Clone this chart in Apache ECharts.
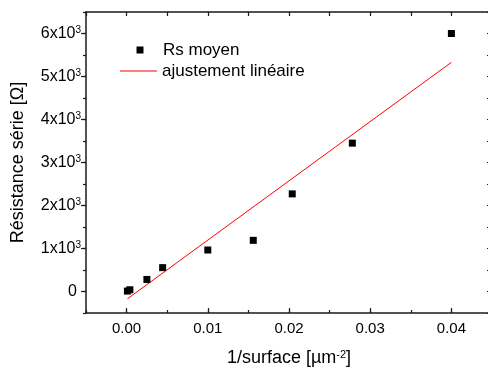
<!DOCTYPE html>
<html>
<head>
<meta charset="utf-8">
<script src="https://cdn.jsdelivr.net/npm/echarts@6/dist/echarts.min.js"></script>
<style>
html,body{margin:0;padding:0;background:#fff;}
#chart{width:488px;height:367px;}
</style>
</head>
<body>
<div id="chart"></div>
<script>
// ---- data ----
const xValues = [0.0001, 0.0004, 0.0025, 0.00444, 0.01, 0.0156, 0.0204, 0.0278, 0.04];
const rsMoyen = [10, 40, 280, 555, 965, 1190, 2270, 3450, 6000];
const fitX = [0.0001, 0.04];
const fitY = [-170, 5330];
const xTickValues = [0, 0.01, 0.02, 0.03, 0.04];
const xTickLabels = ['0.00', '0.01', '0.02', '0.03', '0.04'];
const yTickValues = [0, 1000, 2000, 3000, 4000, 5000, 6000];
const yTickLabels = ['0', '1x10^3', '2x10^3', '3x10^3', '4x10^3', '5x10^3', '6x10^3'];
const seriesNames = ['Rs moyen', 'ajustement linéaire'];
const xTitle = ['1/surface [µm', '-2', ']'];
const yTitle = 'Résistance série [Ω]';

const FONT = '"Liberation Sans", Arial, sans-serif';
const AX = '#1a1a1a';
const X_MIN = -0.005, X_MAX = 0.045, Y_MIN = -500, Y_MAX = 6500;

function yLabel(v) {
  const i = yTickValues.indexOf(v);
  const t = i >= 0 ? yTickLabels[i] : '';
  if (t.indexOf('^') < 0) return '{z|' + t + '}';
  const p = t.split('^');
  return '{n|' + p[0] + '}{s|' + p[1] + '}';
}
function xLabel(v) {
  let best = 0;
  for (let i = 0; i < xTickValues.length; i++) if (Math.abs(xTickValues[i] - v) < 1e-9) best = i;
  return xTickLabels[best];
}

const chart = echarts.init(document.getElementById('chart'), null, {renderer: 'canvas'});
const baseX = {type: 'value', min: X_MIN, max: X_MAX, gridIndex: 0, splitLine: {show: false}};
const baseY = {type: 'value', min: Y_MIN, max: Y_MAX, gridIndex: 0, splitLine: {show: false}};

chart.setOption({
  animation: false,
  backgroundColor: '#ffffff',
  textStyle: {fontFamily: FONT},
  grid: {left: 86, top: 12, width: 406, height: 301, containLabel: false, outerBoundsMode: 'none'},
  legend: [
    {
      data: [seriesNames[0]], left: 136.5, top: 40, padding: 0, orient: 'vertical',
      icon: 'rect', itemWidth: 7, itemHeight: 7,
      textStyle: {fontFamily: FONT, fontSize: 17, color: '#000', lineHeight: 20, padding: [0, 0, 0, 14.5]}
    },
    {
      data: [seriesNames[1]], left: 120, top: 61, padding: 0, orient: 'vertical',
      icon: 'rect', itemWidth: 37, itemHeight: 1.2,
      textStyle: {fontFamily: FONT, fontSize: 17, color: '#000', lineHeight: 20}
    }
  ],
  xAxis: [
    Object.assign({}, baseX, {
      position: 'bottom',
      axisLine: {show: true, onZero: false, lineStyle: {color: AX, width: 1.5}},
      axisTick: {show: true, inside: true, length: 5, customValues: xTickValues, lineStyle: {color: AX, width: 1.2}},
      axisLabel: {show: true, customValues: xTickValues, formatter: xLabel, margin: 8,
        fontFamily: FONT, fontSize: 15, color: '#000'},
      name: '{a|' + xTitle[0] + '}{s|' + xTitle[1] + '}{a|' + xTitle[2] + '}',
      nameLocation: 'middle', nameGap: 36,
      nameTextStyle: {fontFamily: FONT, color: '#000', rich: {
        a: {fontFamily: FONT, fontSize: 18, lineHeight: 18, color: '#000'},
        s: {fontFamily: FONT, fontSize: 11, verticalAlign: 'top', color: '#000'}
      }}
    }),
    Object.assign({}, baseX, {
      position: 'bottom', interval: 0.005,
      axisLine: {show: false, onZero: false},
      axisTick: {show: true, inside: true, length: 3, lineStyle: {color: AX, width: 1.2}},
      axisLabel: {show: false}
    }),
    Object.assign({}, baseX, {
      position: 'top', interval: 0.005,
      axisLine: {show: true, onZero: false, lineStyle: {color: AX, width: 1.5}},
      axisTick: {show: true, inside: true, length: 4, lineStyle: {color: AX, width: 1.2}},
      axisLabel: {show: false}
    })
  ],
  yAxis: [
    Object.assign({}, baseY, {
      position: 'left',
      axisLine: {show: true, onZero: false, lineStyle: {color: AX, width: 1.5}},
      axisTick: {show: true, inside: false, length: 5, customValues: yTickValues, lineStyle: {color: AX, width: 1.2}},
      axisLabel: {show: true, customValues: yTickValues, formatter: yLabel, margin: 5,
        fontFamily: FONT, fontSize: 16, color: '#000',
        rich: {
          n: {fontFamily: FONT, fontSize: 16, lineHeight: 17, color: '#000'},
          z: {fontFamily: FONT, fontSize: 16, lineHeight: 17, color: '#000', padding: [0, 4, 0, 0]},
          s: {fontFamily: FONT, fontSize: 10, verticalAlign: 'top', color: '#000'}
        }},
      name: yTitle, nameLocation: 'middle', nameRotate: 90, nameGap: 59,
      nameTextStyle: {fontFamily: FONT, fontSize: 18, color: '#000'}
    }),
    Object.assign({}, baseY, {
      position: 'left', interval: 500,
      axisLine: {show: false, onZero: false},
      axisTick: {show: true, inside: false, length: 3, lineStyle: {color: AX, width: 1.2}},
      axisLabel: {show: false}
    }),
    Object.assign({}, baseY, {
      position: 'right', interval: 500,
      axisLine: {show: true, onZero: false, lineStyle: {color: AX, width: 1.5}},
      axisTick: {show: true, inside: true, length: 5, lineStyle: {color: AX, width: 1.2}},
      axisLabel: {show: false}
    })
  ],
  series: [
    {
      name: seriesNames[1], type: 'line', xAxisIndex: 0, yAxisIndex: 0,
      data: fitX.map((x, i) => [x, fitY[i]]),
      symbol: 'none', color: '#ff0000',
      lineStyle: {color: '#ff0000', width: 1}, z: 2
    },
    {
      name: seriesNames[0], type: 'scatter', xAxisIndex: 0, yAxisIndex: 0,
      data: xValues.map((x, i) => [x, rsMoyen[i]]),
      symbol: 'rect', symbolSize: 7, color: '#000',
      itemStyle: {color: '#000', opacity: 1}, z: 3
    }
  ]
});
</script>
</body>
</html>
